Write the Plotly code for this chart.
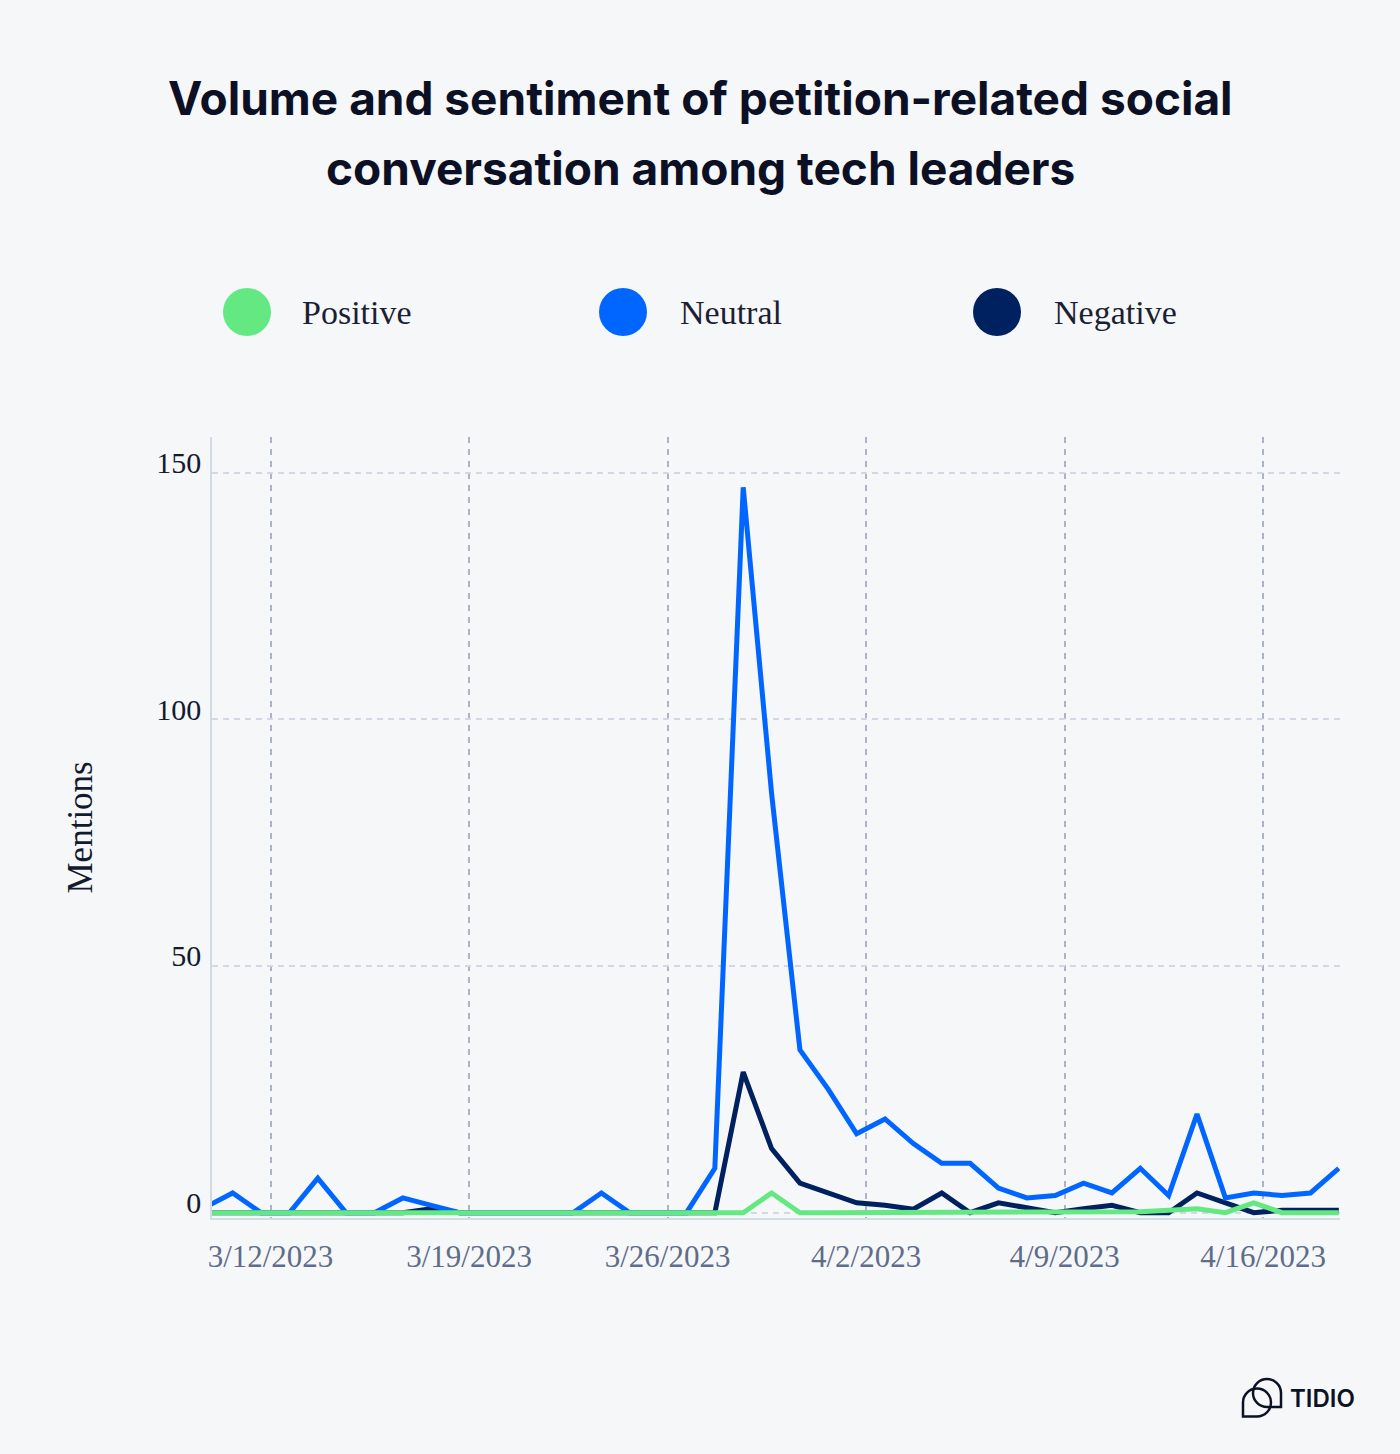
import plotly.graph_objects as go

# ---------------- data ----------------
dates = [
    "2023-03-10", "2023-03-11", "2023-03-12", "2023-03-13", "2023-03-14", "2023-03-15",
    "2023-03-16", "2023-03-17", "2023-03-18", "2023-03-19", "2023-03-20", "2023-03-21",
    "2023-03-22", "2023-03-23", "2023-03-24", "2023-03-25", "2023-03-26", "2023-03-27",
    "2023-03-28", "2023-03-29", "2023-03-30", "2023-03-31", "2023-04-01", "2023-04-02",
    "2023-04-03", "2023-04-04", "2023-04-05", "2023-04-06", "2023-04-07", "2023-04-08",
    "2023-04-09", "2023-04-10", "2023-04-11", "2023-04-12", "2023-04-13", "2023-04-14",
    "2023-04-15", "2023-04-16", "2023-04-17", "2023-04-18", "2023-04-19",
]
positive = [0, 0, 0, 0, 0, 0, 0, 0, 0, 0, 0, 0, 0, 0, 0, 0, 0, 0, 0, 0,
            4, 0, 0, 0, 0, 0, 0, 0, 0, 0, 0, 0, 0,
            0.2, 0.5, 0.8, 0, 2, 0, 0, 0]
neutral = [1, 4, 0, 0, 7, 0, 0, 3, 1.5, 0, 0, 0, 0, 0, 4, 0, 0, 0, 9, 147,
           85, 33, 25, 16, 19, 14, 10, 10, 5, 3, 3.5, 6, 4, 9, 3.5, 20,
           3, 4, 3.5, 4, 9]
negative = [0, 0, 0, 0, 0, 0, 0, 0, 0.8, 0, 0, 0, 0, 0, 0, 0, 0, 0, 0, 28.5,
            13, 6, 4, 2, 1.5, 0.7, 4, 0, 2, 1, 0, 0.8, 1.5, 0, 0, 4,
            2, 0, 0.5, 0.6, 0.5]

series_names = ["Positive", "Neutral", "Negative"]
y_ticks = [0, 50, 100, 150]
title_lines = ["Volume and sentiment of petition-related social",
               "conversation among tech leaders"]

# ---------------- style ----------------
COLORS = {"Positive": "#63e882", "Neutral": "#0066ff", "Negative": "#00215f"}
BG = "#f6f7f9"
DARK = "#0c1024"
W, H = 1400, 1454
L, R, T, B = 212, 60, 437, 236
PW, PH = W - L - R, H - T - B


def px(x):
    return (x - L) / PW


def py(y):
    return (H - B - y) / PH


fig = go.Figure()
# draw order: negative, neutral, positive on top
for name, vals in [("Negative", negative), ("Neutral", neutral), ("Positive", positive)]:
    fig.add_trace(go.Scatter(
        x=dates, y=vals, name=name, mode="lines",
        line=dict(color=COLORS[name], width=5),
        showlegend=False,
    ))

serif = "Liberation Serif"

fig.update_layout(
    width=W, height=H,
    paper_bgcolor=BG, plot_bgcolor=BG,
    margin=dict(l=L, r=R, t=T, b=B, autoexpand=False),
    xaxis=dict(
        type="date",
        range=["2023-03-10 06:30", "2023-04-19 01:00"],
        tick0="2023-03-12 08:00", dtick=7 * 86400000,
        tickformat="%-m/%-d/%Y",
        showgrid=True, gridcolor="#aab4c6", gridwidth=1.5, griddash="6px,6px",
        showline=True, linecolor="#d6dce6", linewidth=2,
        ticks="", ticklabelstandoff=10,
        tickfont=dict(family=serif, size=31, color="#5f6d89"),
        zeroline=False, fixedrange=True,
    ),
    yaxis=dict(
        range=[-1.07, 157.2],
        tickvals=y_ticks, ticktext=[str(v) for v in y_ticks],
        showgrid=True, gridcolor="#d3d9e4", gridwidth=1.5, griddash="6px,5px",
        showline=True, linecolor="#d3d9e4", linewidth=1.5,
        ticks="", ticklabelstandoff=3, ticklabelshift=-10,
        tickfont=dict(family=serif, size=30, color="#141a2e"),
        zeroline=False, fixedrange=True,
    ),
)

shapes = []
annotations = []

# title (two lines, placed separately for line spacing control)
for txt, yc in zip(title_lines, [98, 168]):
    annotations.append(dict(
        text=txt, xref="paper", yref="paper", x=px(700), y=py(yc),
        xanchor="center", yanchor="middle", showarrow=False,
        font=dict(family="Inter", size=46, color=DARK, weight=700),
    ))

# legend (custom, large circles)
legend_pos = {"Positive": (247, 300), "Neutral": (623, 678), "Negative": (997, 1052)}
for name in series_names:
    cx, tx = legend_pos[name]
    shapes.append(dict(
        type="circle", xref="paper", yref="paper",
        xsizemode="pixel", ysizemode="pixel",
        xanchor=px(cx), yanchor=py(312),
        x0=-24, x1=24, y0=-24, y1=24,
        fillcolor=COLORS[name], line=dict(width=0),
    ))
    annotations.append(dict(
        text=name, xref="paper", yref="paper", x=px(tx), y=py(312),
        xanchor="left", yanchor="middle", showarrow=False,
        font=dict(family=serif, size=34, color="#1b1f33"),
    ))

# y axis title
annotations.append(dict(
    text="Mentions", xref="paper", yref="paper", x=px(80), y=0.5,
    xanchor="center", yanchor="middle", textangle=-90, showarrow=False,
    font=dict(family=serif, size=35, color="#141a2e"),
))

# TIDIO logo
k = 0.5523
r = 14


def bubble(cx, cy, corner):
    if corner == "bl":
        p = (f"M {cx-r},{cy} L {cx-r},{cy-r} L {cx},{cy-r} "
             f"C {cx+k*r},{cy-r} {cx+r},{cy-k*r} {cx+r},{cy} "
             f"C {cx+r},{cy+k*r} {cx+k*r},{cy+r} {cx},{cy+r} "
             f"C {cx-k*r},{cy+r} {cx-r},{cy+k*r} {cx-r},{cy} Z")
    else:
        p = (f"M {cx+r},{cy} L {cx+r},{cy-r} L {cx},{cy-r} "
             f"C {cx-k*r},{cy-r} {cx-r},{cy-k*r} {cx-r},{cy} "
             f"C {cx-r},{cy+k*r} {cx-k*r},{cy+r} {cx},{cy+r} "
             f"C {cx+k*r},{cy+r} {cx+r},{cy+k*r} {cx+r},{cy} Z")
    return p


for cxy, corner in [((-5, -4.5), "bl"), ((5, 5), "br")]:
    shapes.append(dict(
        type="path", xref="paper", yref="paper",
        xsizemode="pixel", ysizemode="pixel",
        xanchor=px(1262), yanchor=py(1398),
        path=bubble(cxy[0], cxy[1], corner),
        line=dict(color="#0b1226", width=2.5), fillcolor="rgba(0,0,0,0)",
    ))
annotations.append(dict(
    text="TIDIO", xref="paper", yref="paper", x=px(1288), y=py(1398),
    xanchor="left", yanchor="middle", showarrow=False,
    font=dict(family="Inter", size=24, color="#0b1226", weight=600),
))

fig.update_layout(shapes=shapes, annotations=annotations)

fig.write_html(
    "out.html",
    config={"displayModeBar": False},
    post_script=(
        "document.documentElement.style.margin='0';"
        "document.body.style.margin='0';"
        "document.body.style.background='" + BG + "';"
    ),
)
